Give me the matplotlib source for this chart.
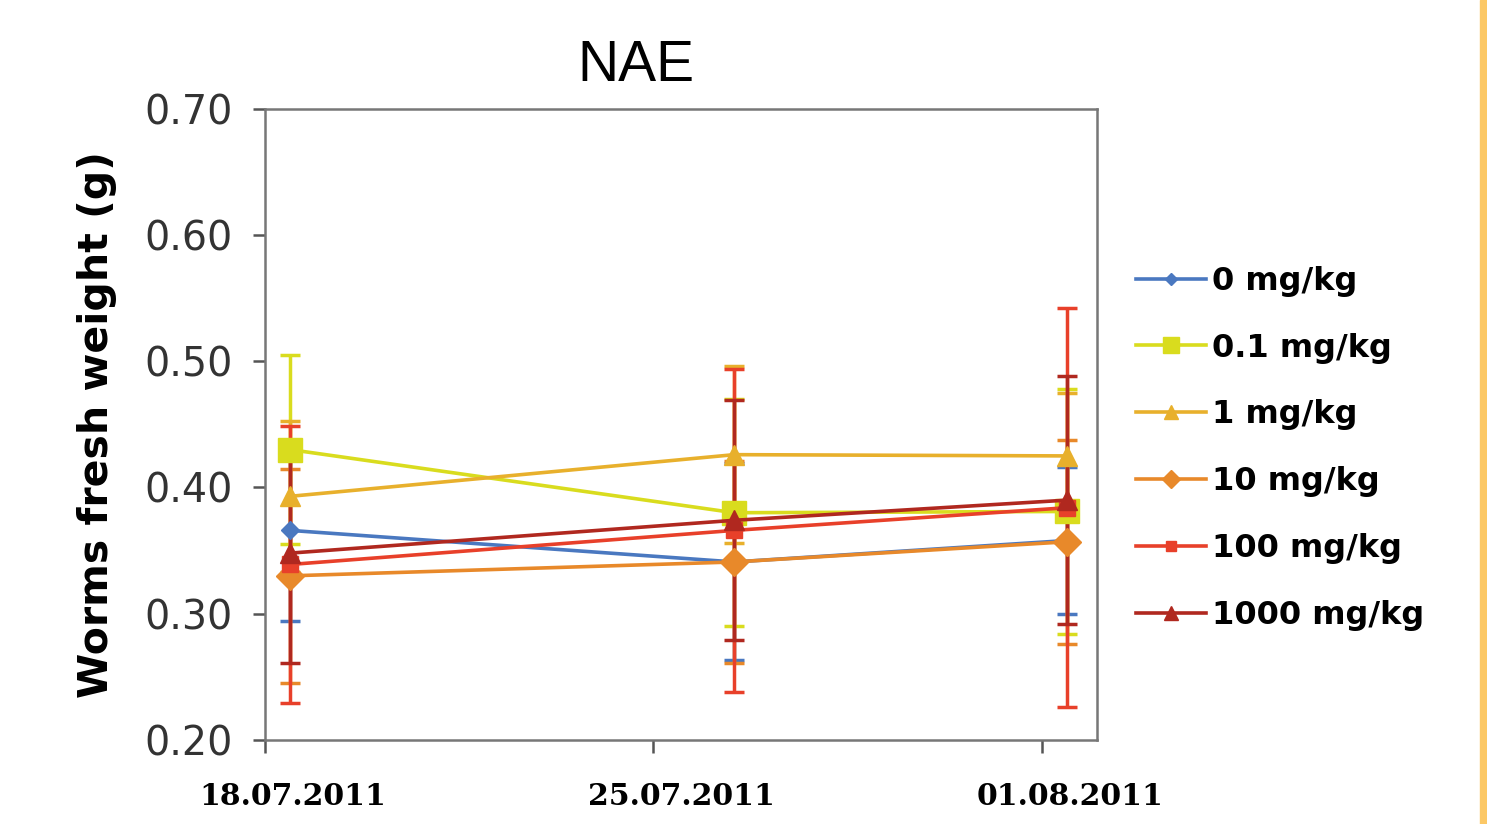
import datetime as dt

import matplotlib
matplotlib.use("Agg")
import matplotlib.pyplot as plt
from matplotlib.lines import Line2D
from matplotlib.patches import Rectangle
from matplotlib.ticker import FormatStrFormatter

# sampling dates
dates = [dt.datetime(2011, 7, 18, 11), dt.datetime(2011, 7, 26, 11), dt.datetime(2011, 8, 1, 11)]
tick_dates = [dt.datetime(2011, 7, 18), dt.datetime(2011, 7, 25), dt.datetime(2011, 8, 1)]
tick_labels = ["18.07.2011", "25.07.2011", "01.08.2011"]

labels = ["0 mg/kg", "0.1 mg/kg", "1 mg/kg", "10 mg/kg", "100 mg/kg", "1000 mg/kg"]

# mean fresh weight (g)
w_0 = [0.366, 0.341, 0.358]
w_01 = [0.430, 0.380, 0.381]
w_1 = [0.393, 0.426, 0.425]
w_10 = [0.330, 0.341, 0.357]
w_100 = [0.339, 0.366, 0.384]
w_1000 = [0.348, 0.374, 0.390]

# standard deviations
sd_0 = [0.072, 0.078, 0.058]
sd_01 = [0.075, 0.090, 0.097]
sd_1 = [0.060, 0.070, 0.050]
sd_10 = [0.085, 0.080, 0.081]
sd_100 = [0.110, 0.128, 0.158]
sd_1000 = [0.087, 0.095, 0.098]

means = [w_0, w_01, w_1, w_10, w_100, w_1000]
sds = [sd_0, sd_01, sd_1, sd_10, sd_100, sd_1000]
colors = ["#4a78c0", "#d9dc1e", "#e8b02c", "#e8892a", "#e8402a", "#b0281f"]
markers = ["D", "s", "^", "D", "s", "^"]
msizes = [9, 17, 15, 14, 12, 15]

fig = plt.figure(figsize=(14.87, 8.24), dpi=100)
ax = fig.add_axes([0.178, 0.102, 0.560, 0.766])

handles = []
for m, s, c, mk, ms, lab in zip(means, sds, colors, markers, msizes, labels):
    ax.errorbar(dates, m, yerr=s, color=c, ecolor=c, elinewidth=2.5, capsize=7,
                capthick=2.5, lw=2.6, marker=mk, ms=ms, mec=c, mfc=c)
    handles.append(Line2D([], [], color=c, lw=2.6, marker=mk, ms=ms * 0.65, mec=c, mfc=c, label=lab))

ax.set_xlim(dt.datetime(2011, 7, 18), dt.datetime(2011, 8, 2))
ax.set_ylim(0.2, 0.7)

# ticks on the dates, labels centred half a day later (as in the spreadsheet chart)
ax.set_xticks(tick_dates)
ax.set_xticklabels([])
ax.set_xticks([d + dt.timedelta(hours=12) for d in tick_dates], minor=True)
ax.set_xticklabels(tick_labels, minor=True, fontfamily="DejaVu Serif", fontweight="bold", fontsize=21.5)
ax.tick_params(axis="x", which="minor", length=0, pad=30)

ax.set_yticks([0.2, 0.3, 0.4, 0.5, 0.6, 0.7])
ax.yaxis.set_major_formatter(FormatStrFormatter("%.2f"))
for t in ax.get_yticklabels():
    t.set_fontsize(28.5)
    t.set_color("#333333")

ax.tick_params(which="major", direction="out", length=9, width=1.8, color="#555555")
ax.tick_params(axis="y", pad=14)
for sp in ax.spines.values():
    sp.set_color("#777777")
    sp.set_linewidth(1.8)

ax.set_ylabel("Worms fresh weight (g)", fontsize=29.5, fontweight="bold", labelpad=20)
fig.text(636 / 1487, 1 - 66 / 824, "NAE", fontfamily="Liberation Sans", fontsize=41,
         ha="center", va="center")

fig.legend(handles=handles, loc="center left", bbox_to_anchor=(0.753, 0.456), frameon=False,
           prop={"size": 23, "weight": "bold"}, handlelength=2.2, handletextpad=0.18,
           labelspacing=1.12, borderpad=0)

# orange page edge
fig.patches.append(Rectangle((1480 / 1487, 0), 7 / 1487, 1, transform=fig.transFigure,
                             color="#fcc866", zorder=0))

fig.savefig("out.png", dpi=100)
